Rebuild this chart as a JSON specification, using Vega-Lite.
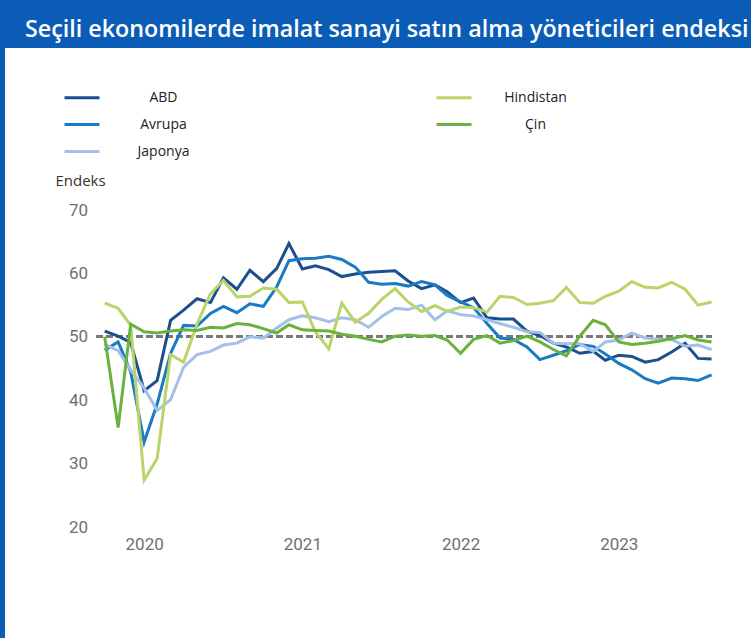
{
  "$schema": "https://vega.github.io/schema/vega-lite/v6.json",
  "width": 746,
  "height": 590,
  "autosize": "none",
  "padding": {"left": 5, "top": 48, "right": 0, "bottom": 0},
  "background": "#0a5cb6",
  "view": {"fill": "white", "stroke": null},
  "title": {
    "text": "Seçili ekonomilerde imalat sanayi satın alma yöneticileri endeksi",
    "anchor": "start",
    "frame": "group",
    "orient": "top",
    "dx": 20,
    "dy": 25,
    "offset": 13,
    "baseline": "alphabetic",
    "color": "white",
    "font": "Open Sans",
    "fontSize": 23.3,
    "fontWeight": 600
  },
  "config": {
    "axis": {"domain": false, "ticks": false, "tickSize": 0, "grid": false, "labelFont": "Roboto", "labelFontSize": 17, "labelColor": "#6f6f6f"},
    "legend": {
      "orient": "none",
      "legendX": 68.5,
      "legendY": 41,
      "columns": 2,
      "padding": 0,
      "symbolType": "M-2.5,0H2.5",
      "symbolSize": 196,
      "symbolStrokeWidth": 3,
      "labelAlign": "center",
      "labelOffset": 73,
      "labelFont": "Open Sans",
      "labelFontSize": 14,
      "labelColor": "#222222",
      "rowPadding": 11,
      "columnPadding": 241
    }
  },
  "data": {"values": [
    {"d":"2020-01-01","s":"ABD","v":50.9},{"d":"2020-02-01","s":"ABD","v":50.1},{"d":"2020-03-01","s":"ABD","v":49.1},{"d":"2020-04-01","s":"ABD","v":41.5},{"d":"2020-05-01","s":"ABD","v":43.1},{"d":"2020-06-01","s":"ABD","v":52.6},{"d":"2020-07-01","s":"ABD","v":54.2},{"d":"2020-08-01","s":"ABD","v":56.0},{"d":"2020-09-01","s":"ABD","v":55.4},{"d":"2020-10-01","s":"ABD","v":59.3},{"d":"2020-11-01","s":"ABD","v":57.5},{"d":"2020-12-01","s":"ABD","v":60.5},
    {"d":"2021-01-01","s":"ABD","v":58.7},{"d":"2021-02-01","s":"ABD","v":60.8},{"d":"2021-03-01","s":"ABD","v":64.7},{"d":"2021-04-01","s":"ABD","v":60.7},{"d":"2021-05-01","s":"ABD","v":61.2},{"d":"2021-06-01","s":"ABD","v":60.6},{"d":"2021-07-01","s":"ABD","v":59.5},{"d":"2021-08-01","s":"ABD","v":59.9},{"d":"2021-09-01","s":"ABD","v":60.2},{"d":"2021-10-01","s":"ABD","v":60.3},{"d":"2021-11-01","s":"ABD","v":60.4},{"d":"2021-12-01","s":"ABD","v":58.8},
    {"d":"2022-01-01","s":"ABD","v":57.6},{"d":"2022-02-01","s":"ABD","v":58.2},{"d":"2022-03-01","s":"ABD","v":57.1},{"d":"2022-04-01","s":"ABD","v":55.4},{"d":"2022-05-01","s":"ABD","v":56.1},{"d":"2022-06-01","s":"ABD","v":53.0},{"d":"2022-07-01","s":"ABD","v":52.8},{"d":"2022-08-01","s":"ABD","v":52.8},{"d":"2022-09-01","s":"ABD","v":50.9},{"d":"2022-10-01","s":"ABD","v":50.2},{"d":"2022-11-01","s":"ABD","v":49.0},{"d":"2022-12-01","s":"ABD","v":48.4},
    {"d":"2023-01-01","s":"ABD","v":47.4},{"d":"2023-02-01","s":"ABD","v":47.7},{"d":"2023-03-01","s":"ABD","v":46.3},{"d":"2023-04-01","s":"ABD","v":47.1},{"d":"2023-05-01","s":"ABD","v":46.9},{"d":"2023-06-01","s":"ABD","v":46.0},{"d":"2023-07-01","s":"ABD","v":46.4},{"d":"2023-08-01","s":"ABD","v":47.6},{"d":"2023-09-01","s":"ABD","v":49.0},{"d":"2023-10-01","s":"ABD","v":46.6},{"d":"2023-11-01","s":"ABD","v":46.5},

    {"d":"2020-01-01","s":"Avrupa","v":47.9},{"d":"2020-02-01","s":"Avrupa","v":49.2},{"d":"2020-03-01","s":"Avrupa","v":44.5},{"d":"2020-04-01","s":"Avrupa","v":33.4},{"d":"2020-05-01","s":"Avrupa","v":39.4},{"d":"2020-06-01","s":"Avrupa","v":47.4},{"d":"2020-07-01","s":"Avrupa","v":51.8},{"d":"2020-08-01","s":"Avrupa","v":51.7},{"d":"2020-09-01","s":"Avrupa","v":53.7},{"d":"2020-10-01","s":"Avrupa","v":54.8},{"d":"2020-11-01","s":"Avrupa","v":53.8},{"d":"2020-12-01","s":"Avrupa","v":55.2},
    {"d":"2021-01-01","s":"Avrupa","v":54.8},{"d":"2021-02-01","s":"Avrupa","v":57.9},{"d":"2021-03-01","s":"Avrupa","v":62.0},{"d":"2021-04-01","s":"Avrupa","v":62.3},{"d":"2021-05-01","s":"Avrupa","v":62.4},{"d":"2021-06-01","s":"Avrupa","v":62.7},{"d":"2021-07-01","s":"Avrupa","v":62.2},{"d":"2021-08-01","s":"Avrupa","v":61.0},{"d":"2021-09-01","s":"Avrupa","v":58.6},{"d":"2021-10-01","s":"Avrupa","v":58.3},{"d":"2021-11-01","s":"Avrupa","v":58.4},{"d":"2021-12-01","s":"Avrupa","v":58.0},
    {"d":"2022-01-01","s":"Avrupa","v":58.7},{"d":"2022-02-01","s":"Avrupa","v":58.2},{"d":"2022-03-01","s":"Avrupa","v":56.5},{"d":"2022-04-01","s":"Avrupa","v":55.5},{"d":"2022-05-01","s":"Avrupa","v":54.6},{"d":"2022-06-01","s":"Avrupa","v":52.1},{"d":"2022-07-01","s":"Avrupa","v":49.8},{"d":"2022-08-01","s":"Avrupa","v":49.6},{"d":"2022-09-01","s":"Avrupa","v":48.4},{"d":"2022-10-01","s":"Avrupa","v":46.4},{"d":"2022-11-01","s":"Avrupa","v":47.1},{"d":"2022-12-01","s":"Avrupa","v":47.8},
    {"d":"2023-01-01","s":"Avrupa","v":48.8},{"d":"2023-02-01","s":"Avrupa","v":48.5},{"d":"2023-03-01","s":"Avrupa","v":47.3},{"d":"2023-04-01","s":"Avrupa","v":45.8},{"d":"2023-05-01","s":"Avrupa","v":44.8},{"d":"2023-06-01","s":"Avrupa","v":43.4},{"d":"2023-07-01","s":"Avrupa","v":42.7},{"d":"2023-08-01","s":"Avrupa","v":43.5},{"d":"2023-09-01","s":"Avrupa","v":43.4},{"d":"2023-10-01","s":"Avrupa","v":43.1},{"d":"2023-11-01","s":"Avrupa","v":44.0},

    {"d":"2020-01-01","s":"Japonya","v":48.8},{"d":"2020-02-01","s":"Japonya","v":47.8},{"d":"2020-03-01","s":"Japonya","v":44.8},{"d":"2020-04-01","s":"Japonya","v":41.9},{"d":"2020-05-01","s":"Japonya","v":38.4},{"d":"2020-06-01","s":"Japonya","v":40.1},{"d":"2020-07-01","s":"Japonya","v":45.2},{"d":"2020-08-01","s":"Japonya","v":47.2},{"d":"2020-09-01","s":"Japonya","v":47.7},{"d":"2020-10-01","s":"Japonya","v":48.7},{"d":"2020-11-01","s":"Japonya","v":49.0},{"d":"2020-12-01","s":"Japonya","v":50.0},
    {"d":"2021-01-01","s":"Japonya","v":49.8},{"d":"2021-02-01","s":"Japonya","v":51.4},{"d":"2021-03-01","s":"Japonya","v":52.7},{"d":"2021-04-01","s":"Japonya","v":53.3},{"d":"2021-05-01","s":"Japonya","v":53.0},{"d":"2021-06-01","s":"Japonya","v":52.4},{"d":"2021-07-01","s":"Japonya","v":53.0},{"d":"2021-08-01","s":"Japonya","v":52.7},{"d":"2021-09-01","s":"Japonya","v":51.5},{"d":"2021-10-01","s":"Japonya","v":53.2},{"d":"2021-11-01","s":"Japonya","v":54.5},{"d":"2021-12-01","s":"Japonya","v":54.3},
    {"d":"2022-01-01","s":"Japonya","v":55.0},{"d":"2022-02-01","s":"Japonya","v":52.7},{"d":"2022-03-01","s":"Japonya","v":54.1},{"d":"2022-04-01","s":"Japonya","v":53.5},{"d":"2022-05-01","s":"Japonya","v":53.3},{"d":"2022-06-01","s":"Japonya","v":52.7},{"d":"2022-07-01","s":"Japonya","v":52.1},{"d":"2022-08-01","s":"Japonya","v":51.5},{"d":"2022-09-01","s":"Japonya","v":50.8},{"d":"2022-10-01","s":"Japonya","v":50.7},{"d":"2022-11-01","s":"Japonya","v":49.0},{"d":"2022-12-01","s":"Japonya","v":48.9},
    {"d":"2023-01-01","s":"Japonya","v":48.9},{"d":"2023-02-01","s":"Japonya","v":47.7},{"d":"2023-03-01","s":"Japonya","v":49.2},{"d":"2023-04-01","s":"Japonya","v":49.5},{"d":"2023-05-01","s":"Japonya","v":50.6},{"d":"2023-06-01","s":"Japonya","v":49.8},{"d":"2023-07-01","s":"Japonya","v":49.6},{"d":"2023-08-01","s":"Japonya","v":49.6},{"d":"2023-09-01","s":"Japonya","v":48.5},{"d":"2023-10-01","s":"Japonya","v":48.7},{"d":"2023-11-01","s":"Japonya","v":48.0},

    {"d":"2020-01-01","s":"Hindistan","v":55.3},{"d":"2020-02-01","s":"Hindistan","v":54.5},{"d":"2020-03-01","s":"Hindistan","v":51.8},{"d":"2020-04-01","s":"Hindistan","v":27.4},{"d":"2020-05-01","s":"Hindistan","v":30.8},{"d":"2020-06-01","s":"Hindistan","v":47.2},{"d":"2020-07-01","s":"Hindistan","v":46.0},{"d":"2020-08-01","s":"Hindistan","v":52.0},{"d":"2020-09-01","s":"Hindistan","v":56.8},{"d":"2020-10-01","s":"Hindistan","v":58.9},{"d":"2020-11-01","s":"Hindistan","v":56.3},{"d":"2020-12-01","s":"Hindistan","v":56.4},
    {"d":"2021-01-01","s":"Hindistan","v":57.7},{"d":"2021-02-01","s":"Hindistan","v":57.5},{"d":"2021-03-01","s":"Hindistan","v":55.4},{"d":"2021-04-01","s":"Hindistan","v":55.5},{"d":"2021-05-01","s":"Hindistan","v":50.8},{"d":"2021-06-01","s":"Hindistan","v":48.1},{"d":"2021-07-01","s":"Hindistan","v":55.3},{"d":"2021-08-01","s":"Hindistan","v":52.3},{"d":"2021-09-01","s":"Hindistan","v":53.7},{"d":"2021-10-01","s":"Hindistan","v":55.9},{"d":"2021-11-01","s":"Hindistan","v":57.6},{"d":"2021-12-01","s":"Hindistan","v":55.5},
    {"d":"2022-01-01","s":"Hindistan","v":54.0},{"d":"2022-02-01","s":"Hindistan","v":54.9},{"d":"2022-03-01","s":"Hindistan","v":54.0},{"d":"2022-04-01","s":"Hindistan","v":54.7},{"d":"2022-05-01","s":"Hindistan","v":54.6},{"d":"2022-06-01","s":"Hindistan","v":53.9},{"d":"2022-07-01","s":"Hindistan","v":56.4},{"d":"2022-08-01","s":"Hindistan","v":56.2},{"d":"2022-09-01","s":"Hindistan","v":55.1},{"d":"2022-10-01","s":"Hindistan","v":55.3},{"d":"2022-11-01","s":"Hindistan","v":55.7},{"d":"2022-12-01","s":"Hindistan","v":57.8},
    {"d":"2023-01-01","s":"Hindistan","v":55.4},{"d":"2023-02-01","s":"Hindistan","v":55.3},{"d":"2023-03-01","s":"Hindistan","v":56.4},{"d":"2023-04-01","s":"Hindistan","v":57.2},{"d":"2023-05-01","s":"Hindistan","v":58.7},{"d":"2023-06-01","s":"Hindistan","v":57.8},{"d":"2023-07-01","s":"Hindistan","v":57.7},{"d":"2023-08-01","s":"Hindistan","v":58.6},{"d":"2023-09-01","s":"Hindistan","v":57.5},{"d":"2023-10-01","s":"Hindistan","v":55.0},{"d":"2023-11-01","s":"Hindistan","v":55.5},

    {"d":"2020-01-01","s":"Çin","v":50.0},{"d":"2020-02-01","s":"Çin","v":35.7},{"d":"2020-03-01","s":"Çin","v":52.0},{"d":"2020-04-01","s":"Çin","v":50.8},{"d":"2020-05-01","s":"Çin","v":50.6},{"d":"2020-06-01","s":"Çin","v":50.9},{"d":"2020-07-01","s":"Çin","v":51.1},{"d":"2020-08-01","s":"Çin","v":51.0},{"d":"2020-09-01","s":"Çin","v":51.5},{"d":"2020-10-01","s":"Çin","v":51.4},{"d":"2020-11-01","s":"Çin","v":52.1},{"d":"2020-12-01","s":"Çin","v":51.9},
    {"d":"2021-01-01","s":"Çin","v":51.3},{"d":"2021-02-01","s":"Çin","v":50.6},{"d":"2021-03-01","s":"Çin","v":51.9},{"d":"2021-04-01","s":"Çin","v":51.1},{"d":"2021-05-01","s":"Çin","v":51.0},{"d":"2021-06-01","s":"Çin","v":50.9},{"d":"2021-07-01","s":"Çin","v":50.4},{"d":"2021-08-01","s":"Çin","v":50.1},{"d":"2021-09-01","s":"Çin","v":49.6},{"d":"2021-10-01","s":"Çin","v":49.2},{"d":"2021-11-01","s":"Çin","v":50.1},{"d":"2021-12-01","s":"Çin","v":50.3},
    {"d":"2022-01-01","s":"Çin","v":50.1},{"d":"2022-02-01","s":"Çin","v":50.2},{"d":"2022-03-01","s":"Çin","v":49.5},{"d":"2022-04-01","s":"Çin","v":47.4},{"d":"2022-05-01","s":"Çin","v":49.6},{"d":"2022-06-01","s":"Çin","v":50.2},{"d":"2022-07-01","s":"Çin","v":49.0},{"d":"2022-08-01","s":"Çin","v":49.4},{"d":"2022-09-01","s":"Çin","v":50.1},{"d":"2022-10-01","s":"Çin","v":49.2},{"d":"2022-11-01","s":"Çin","v":48.0},{"d":"2022-12-01","s":"Çin","v":47.0},
    {"d":"2023-01-01","s":"Çin","v":50.1},{"d":"2023-02-01","s":"Çin","v":52.6},{"d":"2023-03-01","s":"Çin","v":51.9},{"d":"2023-04-01","s":"Çin","v":49.2},{"d":"2023-05-01","s":"Çin","v":48.8},{"d":"2023-06-01","s":"Çin","v":49.0},{"d":"2023-07-01","s":"Çin","v":49.3},{"d":"2023-08-01","s":"Çin","v":49.7},{"d":"2023-09-01","s":"Çin","v":50.2},{"d":"2023-10-01","s":"Çin","v":49.5},{"d":"2023-11-01","s":"Çin","v":49.2}
  ]},
  "layer": [
    {
      "mark": {"type": "rule", "strokeDash": [6, 4], "strokeWidth": 2, "color": "#7a7a7a"},
      "encoding": {
        "x": {"datum": {"year": 2019, "month": 12, "date": 13, "utc": true}, "type": "temporal"},
        "x2": {"datum": {"year": 2023, "month": 11, "date": 1, "utc": true}},
        "y": {"datum": 50, "type": "quantitative"}
      }
    },
    {
      "mark": {"type": "line", "strokeWidth": 3},
      "encoding": {
        "x": {
          "field": "d", "type": "temporal",
          "scale": {"type": "utc", "nice": false, "domain": [{"year": 2019, "month": 5, "date": 16, "utc": true}, {"year": 2024, "month": 1, "date": 31, "utc": true}]},
          "axis": {
            "values": [{"year": 2020, "month": 4, "date": 1, "utc": true}, {"year": 2021, "month": 4, "date": 1, "utc": true}, {"year": 2022, "month": 4, "date": 1, "utc": true}, {"year": 2023, "month": 4, "date": 1, "utc": true}],
            "labelExpr": "utcFormat(datum.value, '%Y')", "offset": -102, "labelPadding": 0, "title": null, "labelAlign": "center", "labelBaseline": "top"
          }
        },
        "y": {
          "field": "v", "type": "quantitative",
          "scale": {"domain": [2.5, 95.55], "nice": false, "zero": false},
          "axis": {
            "values": [20, 30, 40, 50, 60, 70],
            "offset": -82.5, "labelPadding": 0,
            "title": "Endeks", "titleAngle": 0, "titleX": -7.5, "titleY": 132, "titleAlign": "center", "titleBaseline": "middle",
            "titleFont": "Open Sans", "titleFontSize": 15, "titleFontWeight": "normal", "titleColor": "#333333"
          }
        },
        "color": {
          "field": "s", "type": "nominal",
          "scale": {"domain": ["ABD", "Avrupa", "Japonya", "Hindistan", "Çin"], "range": ["#1c4f8f", "#1a7ac4", "#a3c0e8", "#b9d56a", "#6ab23e"]},
          "legend": {"title": null}
        },
        "order": {"field": "d", "type": "temporal"}
      }
    }
  ]
}
